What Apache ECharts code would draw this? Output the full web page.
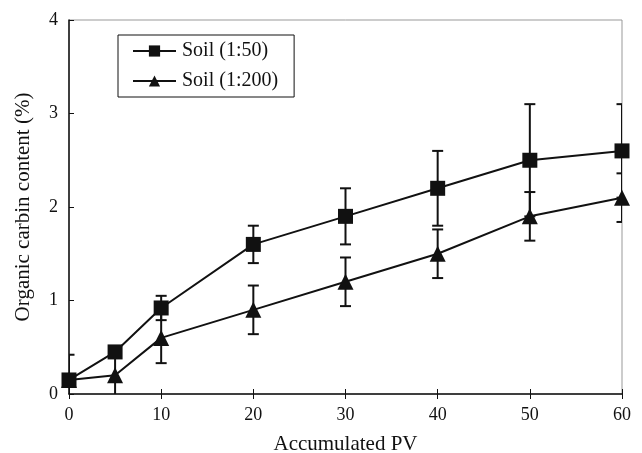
<!DOCTYPE html>
<html>
<head>
<meta charset="utf-8">
<script src="https://cdn.jsdelivr.net/npm/echarts@6/dist/echarts.min.js"></script>
<style>
  html, body { margin: 0; padding: 0; background: #fff; }
  #chart { width: 642px; height: 453px; }
</style>
</head>
<body>
<div id="chart"></div>
<script>
// 数据
const pv = [0, 5, 10, 20, 30, 40, 50, 60]
const soil50 = [0.15, 0.45, 0.92, 1.6, 1.9, 2.2, 2.5, 2.6]
const soil50Err = [0.27, 0.0, 0.13, 0.2, 0.3, 0.4, 0.6, 0.5]
const soil200 = [0.15, 0.2, 0.6, 0.9, 1.2, 1.5, 1.9, 2.1]
const soil200Err = [0.0, 0.25, 0.27, 0.26, 0.26, 0.26, 0.26, 0.26]
const yTicks = [0, 1, 2, 3, 4]

const font = 'Liberation Serif'
const ink = '#111'

const pairs = (ys) => pv.map((x, i) => [x, ys[i]])

// 误差线 (custom series)
const errorSeries = (ys, errs) => ({
  type: 'custom',
  silent: true,
  clip: true,
  z: 1,
  data: pv.map((x, i) => [x, ys[i] - errs[i], ys[i] + errs[i]]).filter((d, i) => errs[i] > 0),
  renderItem: (params, api) => {
    const lo = api.coord([api.value(0), api.value(1)])
    const hi = api.coord([api.value(0), api.value(2)])
    const w = 5.5
    const style = { stroke: ink, lineWidth: 2 }
    return {
      type: 'group',
      children: [
        { type: 'line', shape: { x1: hi[0], y1: hi[1], x2: lo[0], y2: lo[1] }, style },
        { type: 'line', shape: { x1: hi[0] - w, y1: hi[1], x2: hi[0] + w, y2: hi[1] }, style },
        { type: 'line', shape: { x1: lo[0] - w, y1: lo[1], x2: lo[0] + w, y2: lo[1] }, style }
      ]
    }
  }
})

const chart = echarts.init(document.getElementById('chart'))
chart.setOption({
  animation: false,
  textStyle: { fontFamily: font },
  grid: {
    left: 69, right: 20, top: 20, bottom: 59,
    outerBoundsMode: 'none',
    show: true, borderColor: '#999', borderWidth: 1
  },
  legend: {
    orient: 'vertical',
    left: 118, top: 35,
    padding: [6, 16, 6, 14],
    itemGap: 10,
    itemWidth: 43,
    itemHeight: 14,
    borderColor: ink,
    borderWidth: 1,
    backgroundColor: '#fff',
    textStyle: { fontFamily: font, fontSize: 20, color: ink, padding: [0, 0, 0, 1] },
    data: ['Soil (1:50)', 'Soil (1:200)']
  },
  xAxis: [{
    type: 'value',
    min: 0, max: 60, interval: 10,
    name: 'Accumulated PV',
    nameLocation: 'middle',
    nameGap: 40,
    nameTextStyle: { fontFamily: font, fontSize: 21, color: ink },
    axisLine: { onZero: false, lineStyle: { color: ink, width: 1.5 } },
    axisTick: { show: true, inside: false, length: 5, lineStyle: { color: ink } },
    axisLabel: { fontFamily: font, fontSize: 18, color: ink, margin: 12 },
    splitLine: { show: false }
  }, {
    type: 'value',
    position: 'bottom',
    min: 0, max: 60, interval: 10,
    axisLine: { show: false },
    axisTick: { show: true, inside: true, length: 5, lineStyle: { color: ink } },
    axisLabel: { show: false },
    splitLine: { show: false }
  }],
  yAxis: {
    type: 'value',
    min: 0, max: 4, interval: 1,
    name: 'Organic carbin content (%)',
    nameLocation: 'middle',
    nameGap: 35,
    nameTextStyle: { fontFamily: font, fontSize: 21, color: ink },
    axisLine: { show: true, onZero: false, lineStyle: { color: ink, width: 1.5 } },
    axisTick: { show: true, inside: true, length: 5, lineStyle: { color: ink } },
    axisLabel: {
      fontFamily: font, fontSize: 18, color: ink, margin: 11,
      formatter: (v) => (yTicks.includes(v) ? String(v) : '')
    },
    splitLine: { show: false }
  },
  series: [
    errorSeries(soil50, soil50Err),
    errorSeries(soil200, soil200Err),
    {
      name: 'Soil (1:50)',
      type: 'line',
      data: pairs(soil50),
      symbol: 'rect',
      symbolSize: 15,
      z: 3,
      lineStyle: { color: ink, width: 2 },
      itemStyle: { color: ink }
    },
    {
      name: 'Soil (1:200)',
      type: 'line',
      data: pairs(soil200),
      symbol: 'triangle',
      symbolSize: 16,
      z: 2,
      lineStyle: { color: ink, width: 2 },
      itemStyle: { color: ink }
    }
  ]
})
</script>
</body>
</html>
